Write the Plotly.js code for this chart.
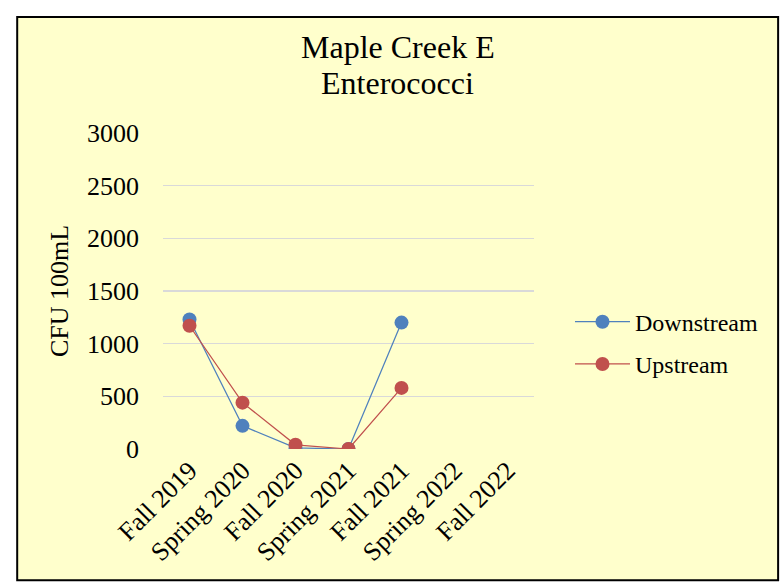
<!DOCTYPE html>
<html>
<head>
<meta charset="utf-8">
<script src="https://cdn.plot.ly/plotly-3.0.1.min.js"></script>
<style>
  html, body { margin: 0; padding: 0; background: #ffffff; }
  #chart { width: 780px; height: 584px; }
</style>
</head>
<body>
<div id="chart"></div>
<script>
const categories = ["Fall 2019", "Spring 2020", "Fall 2020", "Spring 2021", "Fall 2021", "Spring 2022", "Fall 2022"];
const downstream = [1230, 220, 10, 0, 1200, null, null];
const upstream = [1170, 440, 40, 0, 580, null, null];
const yTicks = [0, 500, 1000, 1500, 2000, 2500, 3000];
const titleLines = ["Maple Creek E", "Enterococci"];

const serif = "Liberation Serif, Times New Roman, serif";

const traces = [
  {
    x: categories, y: downstream, name: "Downstream", type: "scatter", mode: "lines+markers",
    legendgroup: "d",
    line: { color: "#4F81BD", width: 1.25 },
    marker: { color: "#4F81BD", size: 14 },
    connectgaps: false
  },
  {
    x: categories, y: upstream, name: "Upstream", type: "scatter", mode: "lines+markers",
    legendgroup: "u",
    line: { color: "#C0504D", width: 1.25 },
    marker: { color: "#C0504D", size: 14 },
    connectgaps: false
  }
];

const layout = {
  width: 780, height: 584,
  margin: { l: 163, r: 246, t: 133, b: 135 },
  paper_bgcolor: "rgba(0,0,0,0)",
  plot_bgcolor: "rgba(0,0,0,0)",
  font: { family: serif, color: "#000000" },
  annotations: [
    {
      text: titleLines[0], xref: "paper", yref: "paper", x: 0.633, y: 1.272,
      xanchor: "center", yanchor: "middle", showarrow: false,
      font: { family: serif, size: 32, color: "#000000" }
    },
    {
      text: titleLines[1], xref: "paper", yref: "paper", x: 0.633, y: 1.158,
      xanchor: "center", yanchor: "middle", showarrow: false,
      font: { family: serif, size: 32, color: "#000000" }
    }
  ],
  xaxis: {
    type: "category",
    categoryorder: "array", categoryarray: categories,
    range: [-0.5, 6.5],
    tickangle: -45,
    tickfont: { family: serif, size: 26, color: "#000000" },
    showgrid: false, zeroline: false, showline: false,
    ticks: ""
  },
  yaxis: {
    range: [0, 3000],
    tickvals: yTicks,
    ticktext: yTicks.map(String),
    tickfont: { family: serif, size: 26, color: "#000000" },
    showgrid: true, gridcolor: "#D9D9D9", gridwidth: 1.5,
    zeroline: false, showline: false, ticks: "",
    ticklabelstandoff: 23,
    title: { text: "CFU 100mL", font: { family: serif, size: 26, color: "#000000" }, standoff: 10 }
  },
  legend: {
    x: 1.097, xanchor: "left", y: 0.335, yanchor: "middle",
    font: { family: serif, size: 24, color: "#000000" },
    itemwidth: 55, traceorder: "grouped", tracegroupgap: 8,
    bgcolor: "rgba(0,0,0,0)"
  },
  shapes: [
    {
      type: "rect", layer: "below",
      xref: "paper", yref: "paper",
      x0: -0.393, x1: 1.658, y0: -0.415, y1: 1.367,
      fillcolor: "#FFFFCC",
      line: { color: "#000000", width: 2 }
    }
  ],
  showlegend: true
};

Plotly.newPlot("chart", traces, layout, { displayModeBar: false, staticPlot: true });
</script>
</body>
</html>
